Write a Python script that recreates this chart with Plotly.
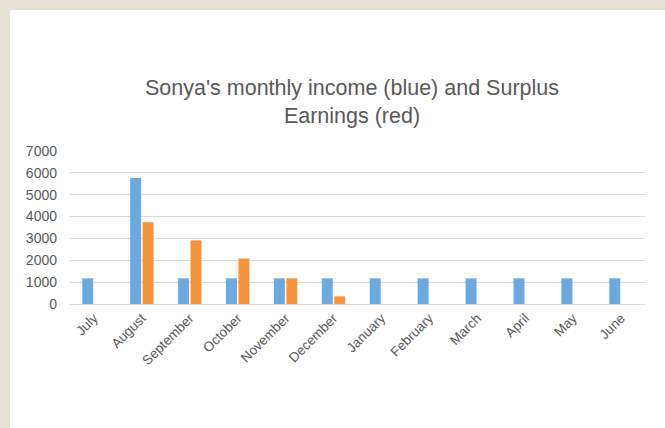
import plotly.graph_objects as go

months = ["July", "August", "September", "October", "November", "December",
          "January", "February", "March", "April", "May", "June"]
income = [1175, 5760, 1175, 1175, 1175, 1175, 1175, 1175, 1175, 1175, 1175, 1175]
surplus = [None, 3740, 2910, 2080, 1175, 350, None, None, None, None, None, None]

W, H = 665, 428
L, R, T, B = 70, 20, 151, 124
pw, ph = W - L - R, H - T - B

def px(x):
    return (x - L) / pw

def py(y):
    return (H - B - y) / ph

fig = go.Figure()
fig.add_trace(go.Bar(x=months, y=income, name="Income", marker_color="#6BAAE0",
                     marker_line_width=0))
fig.add_trace(go.Bar(x=months, y=surplus, name="Surplus", marker_color="#F4943F",
                     marker_line_width=0))

fig.update_layout(
    width=W, height=H,
    margin=dict(l=L, r=R, t=T, b=B, autoexpand=False),
    paper_bgcolor="#E5E2D4",
    plot_bgcolor="rgba(0,0,0,0)",
    barmode="group", bargap=0.48, bargroupgap=0.12,
    showlegend=False,
    font=dict(family="Liberation Sans, Arial, sans-serif", color="#595959", size=13),
    title=dict(text="Sonya's monthly income (blue) and Surplus<br>Earnings (red)",
               xref="container", yref="container",
               x=352 / W, xanchor="center", y=1 - 95 / H, yanchor="middle",
               font=dict(size=21.5, color="#595959")),
    shapes=[dict(type="rect", xref="paper", yref="paper", layer="below",
                 x0=px(10), x1=px(W + 5), y0=py(H + 5), y1=py(10),
                 fillcolor="white", line_width=0)],
    xaxis=dict(tickangle=-45, showgrid=False, showline=True, linecolor="#D9D9D9",
               linewidth=1, ticks="", tickfont=dict(size=13.5, color="#595959")),
    yaxis=dict(range=[0, 7000], dtick=1000, showgrid=True, gridcolor="#D9D9D9",
               gridwidth=1, zeroline=False, ticks="", tickformat="d",
               ticklabelstandoff=12,
               tickfont=dict(size=14, color="#595959")),
)

fig.write_html("out.html", config={"displayModeBar": False},
               post_script="document.body.style.margin='0';")
